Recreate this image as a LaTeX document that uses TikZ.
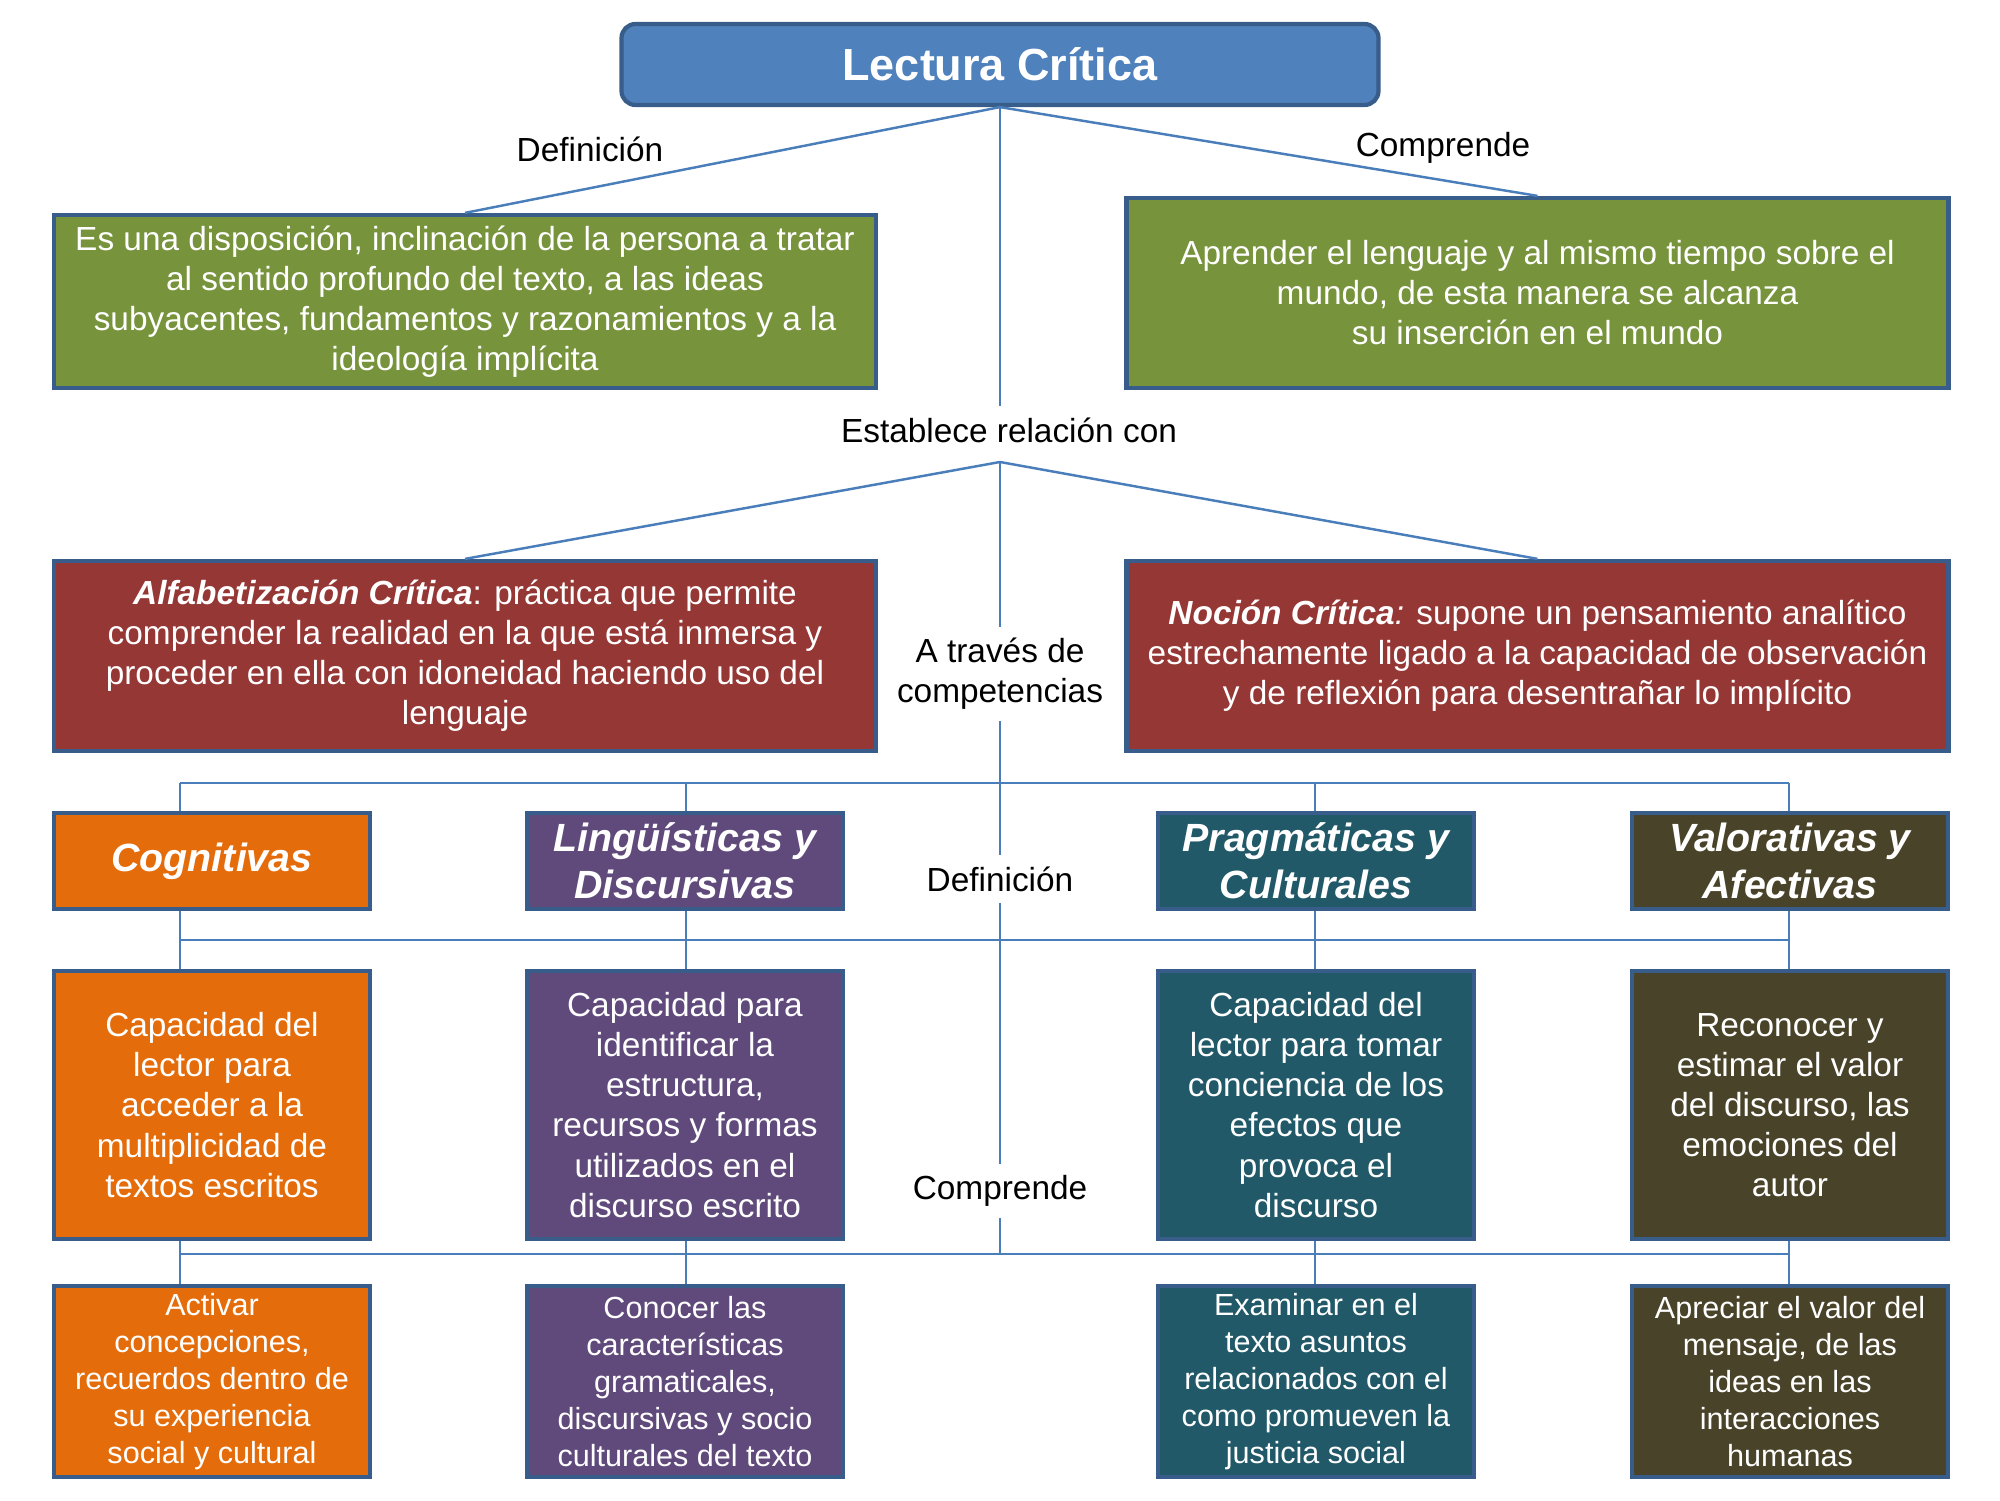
\documentclass[tikz,border=0pt]{standalone}
\usepackage{fontspec}
\setmainfont{Liberation Sans}
\usepackage{tikz}

\definecolor{titleblue}{HTML}{4F81BD}
\definecolor{edgeblue}{HTML}{385D8A}
\definecolor{linkblue}{HTML}{4A7EBB}
\definecolor{leafgreen}{HTML}{77933C}
\definecolor{brickred}{HTML}{953735}
\definecolor{cogorange}{HTML}{E46C0A}
\definecolor{lingpurple}{HTML}{604A7B}
\definecolor{pragteal}{HTML}{215968}
\definecolor{valolive}{HTML}{494429}

\begin{document}
\begin{tikzpicture}[
    box/.style={draw=edgeblue, line width=1.2pt, text=white, align=center, inner sep=0pt,
        font=\fontsize{9.5}{11.4}\selectfont},
    widebox/.style={box, minimum width=8.22cm},
    headbox/.style={box, minimum width=3.16cm, minimum height=0.96cm,
        font=\fontsize{11.2}{13.4}\selectfont\bfseries\itshape},
    defbox/.style={box, minimum width=3.16cm, minimum height=2.68cm},
    subbox/.style={box, minimum width=3.16cm, minimum height=1.91cm,
        font=\fontsize{8.7}{10.5}\selectfont},
    lbl/.style={font=\fontsize{9.5}{11.4}\selectfont, align=center, inner sep=3pt},
    link/.style={draw=linkblue, line width=0.7pt}
]
    \useasboundingbox (0,0) rectangle (20,15);

    % top
    \node[box, fill=titleblue, rounded corners=4pt, minimum width=7.57cm, minimum height=0.81cm,
        font=\fontsize{12.8}{15}\selectfont\bfseries] (title) at (10,14.355) {Lectura Crítica};
    \node[widebox, fill=leafgreen, minimum height=1.73cm] (defi) at (4.65,11.985)
        {Es una disposición, inclinación de la persona a tratar\\al sentido profundo del texto, a las ideas\\subyacentes, fundamentos y razonamientos y a la\\ideología implícita};
    \node[widebox, fill=leafgreen, minimum height=1.90cm] (compr) at (15.375,12.07)
        {Aprender el lenguaje y al mismo tiempo sobre el\\mundo, de esta manera se alcanza\\su inserción en el mundo};
    \node[lbl] (ldef) at (5.90,13.51) {Definición};
    \node[lbl] (lcomp) at (14.43,13.52) {Comprende};
    \node[lbl] (lest) at (10.09,10.70) {Establece relación con};

    % relations
    \node[widebox, fill=brickred, minimum height=1.90cm] (alfa) at (4.65,8.44)
        {\textbf{\textit{Alfabetización Crítica}}: práctica que permite\\comprender la realidad en la que está inmersa y\\proceder en ella con idoneidad haciendo uso del\\lenguaje};
    \node[widebox, fill=brickred, minimum height=1.90cm] (nocion) at (15.375,8.44)
        {\textbf{\textit{Noción Crítica}}\textit{:} supone un pensamiento analítico\\estrechamente ligado a la capacidad de observación\\y de reflexión para desentrañar lo implícito};
    \node[lbl] (latr) at (10,8.26) {A través de\\competencias};
    \node[lbl] (ldef2) at (10,6.21) {Definición};
    \node[lbl] (lcomp2) at (10,3.09) {Comprende};

    % competencies
    \node[headbox, fill=cogorange] (h1) at (2.12,6.39) {Cognitivas};
    \node[headbox, fill=lingpurple] (h2) at (6.85,6.39) {Lingüísticas y\\Discursivas};
    \node[headbox, fill=pragteal] (h3) at (13.16,6.39) {Pragmáticas y\\Culturales};
    \node[headbox, fill=valolive] (h4) at (17.90,6.39) {Valorativas y\\Afectivas};

    \node[defbox, fill=cogorange] (d1) at (2.12,3.95)
        {Capacidad del\\lector para\\acceder a la\\multiplicidad de\\textos escritos};
    \node[defbox, fill=lingpurple] (d2) at (6.85,3.95)
        {Capacidad para\\identificar la\\estructura,\\recursos y formas\\utilizados en el\\discurso escrito};
    \node[defbox, fill=pragteal] (d3) at (13.16,3.95)
        {Capacidad del\\lector para tomar\\conciencia de los\\efectos que\\provoca el\\discurso};
    \node[defbox, fill=valolive] (d4) at (17.90,3.95)
        {Reconocer y\\estimar el valor\\del discurso, las\\emociones del\\autor};

    \node[subbox, fill=cogorange] (s1) at (2.12,1.185)
        {Activar\\concepciones,\\recuerdos dentro de\\su experiencia\\social y cultural};
    \node[subbox, fill=lingpurple] (s2) at (6.85,1.185)
        {Conocer las\\características\\gramaticales,\\discursivas y socio\\culturales del texto};
    \node[subbox, fill=pragteal] (s3) at (13.16,1.185)
        {Examinar en el\\texto asuntos\\relacionados con el\\como promueven la\\justicia social};
    \node[subbox, fill=valolive] (s4) at (17.90,1.185)
        {Apreciar el valor del\\mensaje, de las\\ideas en las\\interacciones\\humanas};

    % connectors
    \coordinate (fork) at (10,10.38);
    \coordinate (b2) at (10,5.60);
    \coordinate (b3) at (10,2.46);
    \coordinate (tap1) at (1.80,7.17);
    \coordinate (tap2) at (6.86,7.17);
    \coordinate (tap3) at (13.15,7.17);
    \coordinate (tap4) at (17.89,7.17);

    \draw[link] (title.south) -- (defi.north);
    \draw[link] (title.south) -- (compr.north);
    \draw[link] (title.south) -- (title.south |- lest.north);
    \draw[link] (fork) -- (alfa.north);
    \draw[link] (fork) -- (nocion.north);
    \draw[link] (fork) -- (latr.north);
    \draw[link] (latr.south) -- (ldef2.north);
    \draw[link] (ldef2.south) -- (lcomp2.north);
    \draw[link] (lcomp2.south) -- (b3);

    \draw[link] (tap1) -- (tap4);
    \draw[link] (tap1 |- b2) -- (tap4 |- b2);
    \draw[link] (tap1 |- b3) -- (tap4 |- b3);
    \foreach \n in {1,2,3,4} {
        \draw[link] (tap\n) -- (tap\n |- h\n.north);
        \draw[link] (tap\n |- h\n.south) -- (tap\n |- d\n.north);
        \draw[link] (tap\n |- d\n.south) -- (tap\n |- s\n.north);
    }
\end{tikzpicture}
\end{document}
